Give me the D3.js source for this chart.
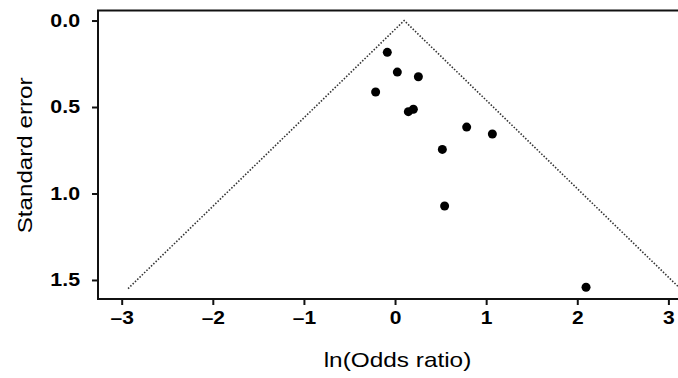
<!DOCTYPE html>
<html>
<head>
<meta charset="utf-8">
<script src="https://cdn.jsdelivr.net/npm/d3@7"></script>
<style>
  html, body { margin: 0; padding: 0; background: #fff; }
  svg { display: block; }
  text { font-family: "Liberation Sans", Arial, Helvetica, sans-serif; fill: #000; }
</style>
</head>
<body>
<svg id="chart" width="678" height="378"></svg>
<script>
// ---- data ----
const lnOR = [-0.085, 0.025, 0.256, -0.213, 0.146, 0.201, 0.786, 1.068, 0.519, 0.544, 2.096];
const stdErr = [0.184, 0.298, 0.325, 0.413, 0.527, 0.513, 0.616, 0.656, 0.745, 1.072, 1.542];
const funnelX = [-2.93, 0.10, 3.13];
const funnelSE = [1.55, 0.0, 1.55];
const xTicks = [-3, -2, -1, 0, 1, 2, 3];
const yTicks = [0.0, 0.5, 1.0, 1.5];
const xTitle = "ln(Odds ratio)";
const yTitle = "Standard error";

// ---- layout ----
const svg = d3.select("#chart");
const x = d3.scaleLinear().domain([-3.26, 3.45]).range([98, 709.4]);
const y = d3.scaleLinear().domain([-0.058, 1.61]).range([10.5, 299]);

const stretch = (sel, f) => sel.each(function () {
  const w = this.getComputedTextLength();
  d3.select(this).attr("textLength", w * f).attr("lengthAdjust", "spacingAndGlyphs");
});

// frame
svg.append("rect")
  .attr("x", x.range()[0]).attr("y", y.range()[0])
  .attr("width", x.range()[1] - x.range()[0])
  .attr("height", y.range()[1] - y.range()[0])
  .attr("fill", "none").attr("stroke", "#111").attr("stroke-width", 2);

// funnel
const line = d3.line().x((d, i) => x(funnelX[i])).y((d, i) => y(funnelSE[i]));
svg.append("path")
  .datum(funnelX)
  .attr("d", line)
  .attr("fill", "none")
  .attr("stroke", "#333")
  .attr("stroke-width", 1.6)
  .attr("stroke-dasharray", "1.5,1.7");

// points
svg.append("g").selectAll("circle")
  .data(lnOR)
  .join("circle")
  .attr("cx", d => x(d))
  .attr("cy", (d, i) => y(stdErr[i]))
  .attr("r", 4.5)
  .attr("fill", "#000");

// x axis
const xAxis = d3.axisBottom(x).tickValues(xTicks).tickSize(6).tickPadding(7)
  .tickFormat(d => d < 0 ? "\u2013" + Math.abs(d) : String(d));
const gx = svg.append("g").attr("transform", `translate(0,${y.range()[1]})`).call(xAxis);
gx.select(".domain").remove();
gx.selectAll(".tick line").attr("stroke", "#111").attr("stroke-width", 2);
gx.selectAll(".tick text")
  .attr("font-size", 17.5).attr("font-weight", "bold")
  .attr("font-family", "Liberation Sans, Arial, sans-serif")
  .attr("fill", "#000")
  .call(stretch, 1.2);

// y axis
const yAxis = d3.axisLeft(y).tickValues(yTicks).tickSize(6).tickPadding(12)
  .tickFormat(d3.format(".1f"));
const gy = svg.append("g").attr("transform", `translate(${x.range()[0]},0)`).call(yAxis);
gy.select(".domain").remove();
gy.selectAll(".tick line").attr("stroke", "#111").attr("stroke-width", 2);
gy.selectAll(".tick text")
  .attr("font-size", 17.5).attr("font-weight", "bold")
  .attr("font-family", "Liberation Sans, Arial, sans-serif")
  .attr("fill", "#000")
  .call(stretch, 1.22);

// titles
svg.append("text")
  .attr("x", 397.5).attr("y", 367)
  .attr("text-anchor", "middle")
  .attr("font-size", 21)
  .text(xTitle)
  .call(stretch, 1.16);

svg.append("text")
  .attr("transform", "translate(31.5,155.4) rotate(-90)")
  .attr("text-anchor", "middle")
  .attr("font-size", 21)
  .text(yTitle)
  .call(stretch, 1.15);
</script>
</body>
</html>
